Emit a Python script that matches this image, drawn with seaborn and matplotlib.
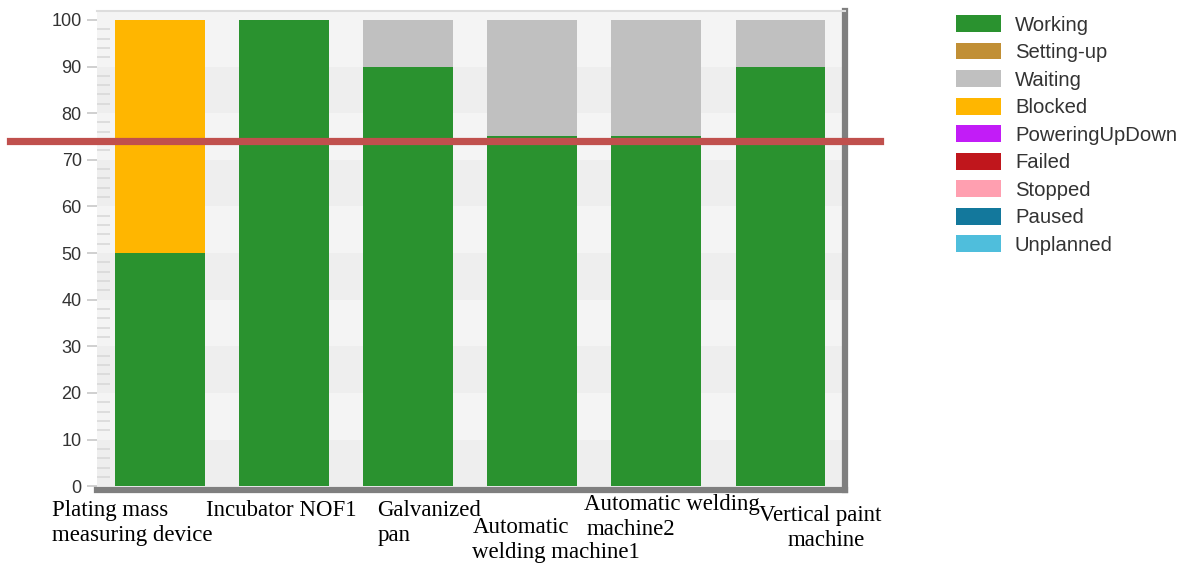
import numpy as np
import pandas as pd
import seaborn as sns
import matplotlib.pyplot as plt
from matplotlib.patches import Patch

# Machines and their state shares (percent)
machines = ["Plating mass\nmeasuring device", "Incubator NOF1", "Galvanized\npan",
            "Automatic\nwelding machine1", "Automatic welding\nmachine2",
            "Vertical paint\nmachine"]
states = ["Working", "Setting-up", "Waiting", "Blocked", "PoweringUpDown",
          "Failed", "Stopped", "Paused", "Unplanned"]
state_colors = ["#2a922f", "#c18f35", "#c0c0c0", "#ffb600", "#c21cf7",
                "#c0161c", "#ff9fb0", "#13789c", "#4fbedc"]
working = [50, 100, 90, 75, 75, 90]
setting_up = [0, 0, 0, 0, 0, 0]
waiting = [0, 0, 10, 25, 25, 10]
blocked = [50, 0, 0, 0, 0, 0]
powering = [0, 0, 0, 0, 0, 0]
failed = [0, 0, 0, 0, 0, 0]
stopped = [0, 0, 0, 0, 0, 0]
paused = [0, 0, 0, 0, 0, 0]
unplanned = [0, 0, 0, 0, 0, 0]
threshold = 74
yticks = [0, 10, 20, 30, 40, 50, 60, 70, 80, 90, 100]

df = pd.DataFrame([working, setting_up, waiting, blocked, powering,
                   failed, stopped, paused, unplanned], index=states).T
df["machine"] = machines
cum = df[states].cumsum(axis=1)

W, H = 1189, 563
fig = plt.figure(figsize=(W / 100, H / 100), dpi=100)
ax = fig.add_axes([97 / W, 1 - 490 / H, 748 / W, 479 / H])
ax.set_facecolor("#f4f4f4")

# faint alternating bands behind the bars
for lo in range(0, 100, 20):
    ax.axhspan(lo, lo + 10, color="#eeeeee", lw=0, zorder=0)

# stacked bars: draw cumulative totals from the top state down
for st, col in reversed(list(zip(states, state_colors))):
    sns.barplot(x=df["machine"], y=cum[st], color=col, saturation=1,
                width=0.725, linewidth=0, ax=ax, zorder=2)

ax.set_xlim(-0.51, 5.52)
ax.set_ylim(-0.8, 101.9)
ax.set_yticks(yticks)
ax.set_yticks(np.arange(0, 101, 2), minor=True)
ax.set_xlabel("")
ax.set_ylabel("")
ax.tick_params(axis="x", length=0, labelbottom=False)
ax.tick_params(axis="y", which="major", length=7, width=1.2, color="#c8c8c8",
               labelsize=13, labelcolor="#333333", pad=4)
ax.tick_params(axis="y", which="minor", direction="in", length=9, width=1.2,
               color="#d9d9d9")
for lab in ax.get_yticklabels():
    lab.set_fontfamily("Liberation Sans")

ax.spines["left"].set_visible(False)
ax.spines["top"].set_color("#dddddd")
ax.spines["top"].set_linewidth(1.5)
for side in ["bottom", "right"]:
    ax.spines[side].set_color("#7f7f7f")
    ax.spines[side].set_linewidth(4.5)

# category labels placed under the bars, one text per line
offsets = [(-108, -10), (-78, -10), (-31, -10), (-60, -27), (-72, -4), (-21, -15)]
indent2 = [0, 0, 0, 0, 2, 28]
pitch = 25
for i, (name, (dx, dy), ind) in enumerate(zip(machines, offsets, indent2)):
    for k, line in enumerate(name.split("\n")):
        ax.annotate(line, xy=(i, 0), xycoords=("data", "axes fraction"),
                    xytext=(dx + (ind if k else 0), dy - k * pitch),
                    textcoords="offset pixels", ha="left", va="top",
                    fontsize=16.5, family="Liberation Serif", color="black",
                    annotation_clip=False)

# red reference line running past the plot area
ax.axhline(threshold, xmin=-0.116, xmax=1.047, color="#c0504d", lw=5.2,
           clip_on=False, zorder=5)

handles = [Patch(facecolor=c, edgecolor="none") for c in state_colors]
fig.legend(handles, states, loc="upper left", bbox_to_anchor=(948 / W, 1 - 7 / H),
           frameon=False, prop={"family": "Liberation Sans", "size": 14.6},
           labelcolor="#333333", handlelength=2.2, handleheight=0.9,
           handletextpad=0.7, labelspacing=0.4, borderaxespad=0)

fig.savefig("out.png", dpi=100)
